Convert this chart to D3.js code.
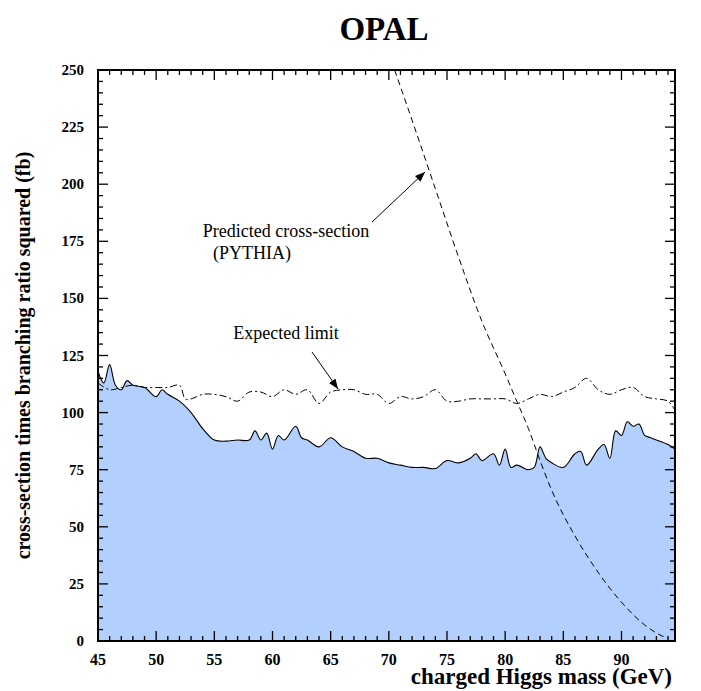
<!DOCTYPE html>
<html><head><meta charset="utf-8">
<script src="https://cdn.jsdelivr.net/npm/d3@7"></script>
<style>body{margin:0;background:#fff}text{font-family:"Liberation Serif","Times New Roman",serif}</style>
</head><body><svg id="c" width="701" height="691"></svg>
<script>
// observed limit (filled)
var obsMass = [45,45.5,46,46.5,47,47.5,48,49,50,50.5,51,52,53,54,55,56,57,58,58.5,59,59.5,60,60.5,61,62,62.5,63,64,65,66,67,68,69,70,71,72,73,74,75,76,77,77.5,78,79,79.5,80,80.5,81,82,82.5,83,83.5,84,85,86,86.5,87,88,88.5,89,89.5,90,90.5,91,91.5,92,92.5,93,94,94.6];
var obsVal = [118,113,121,112,110,114,112,111,107,110,108,105,100,93,88,87.5,88,88,92,88,91,84,90,88,94,89,88,85,89,85,83,80,80,78,77,76,76,75.5,79,78,80,82,79,82,77,84,76,77,75,76,85,80,78,76,82,83,77,84,86,80,92,90,96,94,95,90,89,88,86,84];
// expected limit
var expMass = [45,46,47,48,49,50,51,52,52.5,53,54,55,56,57,58,59,60,61,62,63,64,65,66,67,68,69,70,71,72,73,74,75,76,77,78,79,80,81,82,83,84,85,86,87,88,89,90,91,92,93,94,94.6];
var expVal = [113,110,111,112,111,111,111,112,106,106,108,108,107,105,109,109,107,110,108,110,104,109,110,110,108,108,104,107,106,107,110,105,105,106,106,106,106,104,106,108,107,109,111,115,110,108,110,111,107,106,105,101];
// predicted cross-section (PYTHIA)
var predMass = [70.5,72,74,76,78,80,81,82,83,84,86,88,90,92,93,94];
var predVal = [250,228,198,168,140,117,105,93,79,66,46,30,17,7,3.5,1];
var xTicks = [45,50,55,60,65,70,75,80,85,90];
var yTicks = [0,25,50,75,100,125,150,175,200,225,250];

var L=98,R=675,T=70,B=641;
var svg=d3.select("#c");
var x=d3.scaleLinear().domain([45,94.6]).range([L,R]);
var y=d3.scaleLinear().domain([0,250]).range([B,T]);
var defs=svg.append("defs");
defs.append("clipPath").attr("id","cp").append("rect").attr("x",L).attr("y",T).attr("width",R-L).attr("height",B-T);
var g=svg.append("g").attr("clip-path","url(#cp)");

var obs=obsMass.map((m,i)=>[m,obsVal[i]]);
g.append("path").datum(obs).attr("fill","#b3cffd")
 .attr("d",d3.area().x(d=>x(d[0])).y0(B).y1(d=>y(d[1])).curve(d3.curveCatmullRom));
g.append("path").datum(obs).attr("fill","none").attr("stroke","#000").attr("stroke-width",1.1)
 .attr("d",d3.line().x(d=>x(d[0])).y(d=>y(d[1])).curve(d3.curveCatmullRom));
g.append("path").datum(expMass.map((m,i)=>[m,expVal[i]])).attr("fill","none").attr("stroke","#000")
 .attr("stroke-width",1).attr("stroke-dasharray","7,3,2,3")
 .attr("d",d3.line().x(d=>x(d[0])).y(d=>y(d[1])).curve(d3.curveCatmullRom));
g.append("path").datum(predMass.map((m,i)=>[m,predVal[i]])).attr("fill","none").attr("stroke","#000")
 .attr("stroke-width",1).attr("stroke-dasharray","6,4")
 .attr("d",d3.line().x(d=>x(d[0])).y(d=>y(d[1])).curve(d3.curveMonotoneX));

// frame and ticks
svg.append("rect").attr("x",L).attr("y",T).attr("width",R-L).attr("height",B-T).attr("fill","none").attr("stroke","#000").attr("stroke-width",2);
var tk=svg.append("g").attr("stroke","#000").attr("stroke-width",1.3);
d3.range(45,95,1).forEach(function(v){
  var len=v%5==0?10:5;
  tk.append("line").attr("x1",x(v)).attr("x2",x(v)).attr("y1",B).attr("y2",B-len);
  tk.append("line").attr("x1",x(v)).attr("x2",x(v)).attr("y1",T).attr("y2",T+len);
});
d3.range(0,251,5).forEach(function(v){
  var len=v%25==0?10:5;
  tk.append("line").attr("y1",y(v)).attr("y2",y(v)).attr("x1",L).attr("x2",L+len);
  tk.append("line").attr("y1",y(v)).attr("y2",y(v)).attr("x1",R).attr("x2",R-len);
});
svg.selectAll(".xl").data(xTicks).join("text").attr("x",d=>x(d)).attr("y",B+24).attr("text-anchor","middle")
 .attr("font-size",16).attr("font-weight","bold").text(d=>d);
svg.selectAll(".yl").data(yTicks).join("text").attr("x",L-14).attr("y",d=>y(d)+5).attr("text-anchor","end")
 .attr("font-size",15).attr("font-weight","bold").text(d=>d);

svg.append("text").attr("x",384).attr("y",40).attr("text-anchor","middle").attr("font-size",33).attr("font-weight","bold").text("OPAL");
svg.append("text").attr("x",672).attr("y",684).attr("text-anchor","end").attr("font-size",23).attr("font-weight","bold").text("charged Higgs mass (GeV)");
svg.append("text").attr("transform","translate(30,"+(T+B)/2+") rotate(-90)").attr("text-anchor","middle").attr("font-size",20).attr("font-weight","bold").text("cross-section times branching ratio squared (fb)");

// annotations
svg.append("defs").append("marker").attr("id","ah").attr("viewBox","0 0 10 10").attr("refX",10).attr("refY",5)
 .attr("markerWidth",10).attr("markerHeight",10).attr("orient","auto").attr("markerUnits","userSpaceOnUse")
 .append("path").attr("d","M0,1L10,5L0,9Z").attr("fill","#000");
svg.append("text").attr("x",286).attr("y",237).attr("text-anchor","middle").attr("font-size",18).text("Predicted cross-section");
svg.append("text").attr("x",252).attr("y",259).attr("text-anchor","middle").attr("font-size",18).text("(PYTHIA)");
svg.append("line").attr("x1",372).attr("y1",222).attr("x2",425).attr("y2",172).attr("stroke","#000").attr("marker-end","url(#ah)");
svg.append("text").attr("x",286).attr("y",339).attr("text-anchor","middle").attr("font-size",18).text("Expected limit");
svg.append("line").attr("x1",312).attr("y1",352).attr("x2",338).attr("y2",389).attr("stroke","#000").attr("marker-end","url(#ah)");
</script></body></html>
